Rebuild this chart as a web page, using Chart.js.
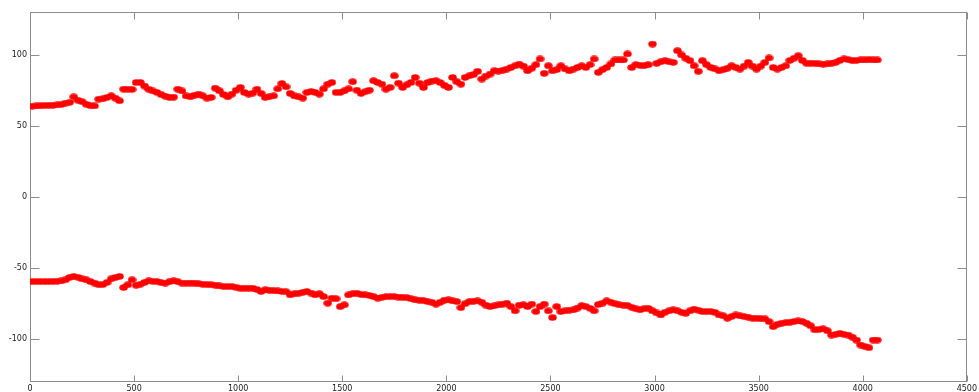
<!DOCTYPE html>
<html>
<head>
<meta charset="utf-8">
<script src="https://cdn.jsdelivr.net/npm/chart.js@4"></script>
<style>
	html, body { margin: 0; padding: 0; background: #fff; }
	canvas { display: block; }
</style>
</head>
<body>
<canvas id="chart" width="979" height="392"></canvas>
<script>
// sample positions shared by both traces
const xs = [
	10, 30, 50, 70, 90, 110, 130, 150, 170, 190,
	210, 230, 250, 270, 290, 310, 330, 350, 370, 390,
	410, 430, 450, 470, 490, 510, 530, 550, 570, 590,
	610, 630, 650, 670, 690, 710, 730, 750, 770, 790,
	810, 830, 850, 870, 890, 910, 930, 950, 970, 990,
	1010, 1030, 1050, 1070, 1090, 1110, 1130, 1150, 1170, 1190,
	1210, 1230, 1250, 1270, 1290, 1310, 1330, 1350, 1370, 1390,
	1410, 1430, 1450, 1470, 1490, 1510, 1530, 1550, 1570, 1590,
	1610, 1630, 1650, 1670, 1690, 1710, 1730, 1750, 1770, 1790,
	1810, 1830, 1850, 1870, 1890, 1910, 1930, 1950, 1970, 1990,
	2010, 2030, 2050, 2070, 2090, 2110, 2130, 2150, 2170, 2190,
	2210, 2230, 2250, 2270, 2290, 2310, 2330, 2350, 2370, 2390,
	2410, 2430, 2450, 2470, 2490, 2510, 2530, 2550, 2570, 2590,
	2610, 2630, 2650, 2670, 2690, 2710, 2730, 2750, 2770, 2790,
	2810, 2830, 2850, 2870, 2890, 2910, 2930, 2950, 2970, 2990,
	3010, 3030, 3050, 3070, 3090, 3110, 3130, 3150, 3170, 3190,
	3210, 3230, 3250, 3270, 3290, 3310, 3330, 3350, 3370, 3390,
	3410, 3430, 3450, 3470, 3490, 3510, 3530, 3550, 3570, 3590,
	3610, 3630, 3650, 3670, 3690, 3710, 3730, 3750, 3770, 3790,
	3810, 3830, 3850, 3870, 3890, 3910, 3930, 3950, 3970, 3990,
	4010, 4030, 4050, 4070
]

const upper = [
	63.8, 64, 64.1, 64.3, 64.4, 64.5, 64.7, 65, 66, 66.5,
	70.4, 68, 67, 65.2, 64.2, 64, 68.8, 69, 70, 71.1,
	69.5, 67.6, 75.8, 75.8, 75.6, 80.5, 80.5, 78, 75.8, 74.5,
	73.5, 72, 70.8, 70, 70.2, 75.8, 74.5, 71, 70.4, 71.5,
	72.3, 71.1, 69.5, 70, 76.5, 74.6, 72, 70.4, 72.3, 75,
	77, 73.5, 72.3, 73, 75.8, 72.8, 70, 70.5, 71.1, 76,
	79.8, 77.4, 72.8, 71, 70.4, 69.5, 73.5, 74.2, 73.5, 72.3,
	76, 79.3, 80.5, 73.5, 73.5, 74.6, 76, 81, 75.1, 72.8,
	74, 75.1, 81.7, 80.5, 79.3, 75.8, 77, 85.2, 80, 77,
	78.8, 80.5, 84, 80, 77, 80.5, 81.5, 81.7, 80.5, 78.5,
	77, 84, 81, 79.3, 84, 85.2, 86, 88.3, 82.9, 85,
	86.4, 88.7, 88.5, 89, 89.9, 91, 92.2, 93.4, 92, 88.7,
	90.5, 93, 97, 86.9, 92.2, 88.7, 89.5, 92.2, 90, 88.7,
	89.9, 91, 92.2, 91, 93, 97, 87.6, 89.5, 91, 93.5,
	96.3, 96.3, 96.3, 100.5, 91, 93, 92.5, 92.2, 93, 107.5,
	93.9, 95, 95.8, 95, 94.6, 102.8, 99.8, 97.5, 95.8, 92.2,
	88.3, 95.8, 93, 91, 90, 88.7, 89.5, 90.5, 92.2, 91,
	89.9, 92, 94.6, 92, 89.9, 92, 94.6, 97.7, 91, 89.9,
	91, 92.2, 96, 97.5, 99.3, 96, 94, 94, 93.9, 93.5,
	93.4, 93.5, 94, 94.6, 96, 97, 96.5, 95.8, 96, 96.3,
	96.3, 96.5, 96.3, 96.3
]

const lower = [
	-59.4, -59.4, -59.4, -59.4, -59.4, -59.3, -59.2, -59, -58.2, -56.5,
	-55.8, -56.4, -57.5, -58.2, -59.4, -60.5, -61.7, -61.5, -60, -57.5,
	-56.6, -55.8, -63.6, -61.7, -58.2, -62, -61.3, -60, -58.9, -59.2,
	-59.4, -60.2, -60.5, -59.5, -58.9, -59.5, -60.5, -60.5, -60.5, -60.5,
	-61, -61.3, -61.5, -61.7, -62, -62.5, -62.9, -62.9, -62.9, -63.5,
	-64.1, -64.1, -64.1, -64.1, -65, -66.4, -65.2, -65.5, -65.8, -66,
	-66.4, -66.6, -68.8, -68, -67.6, -67, -66.4, -67.5, -68.8, -68,
	-70, -74.6, -71.1, -71.5, -77, -75.8, -68.8, -68, -67.6, -68.5,
	-68.8, -69.2, -70, -71.1, -70.5, -70, -70, -70, -70.3, -70.5,
	-70.7, -71.5, -72.3, -72.5, -72.8, -73.5, -74, -75.3, -74, -72.5,
	-72.3, -73, -73.5, -77.7, -75, -73.5, -73.2, -73, -74, -76,
	-77, -76.5, -75.8, -75.3, -74.6, -77, -80, -76, -75.8, -77,
	-75.3, -80.5, -77, -75.3, -80, -84.7, -77, -80.5, -80, -79.5,
	-79.3, -78, -76.3, -77, -78.2, -80, -75.5, -74.6, -73, -74,
	-75, -75.8, -76, -76.3, -77.5, -78.5, -79.3, -78.5, -78.2, -80,
	-81.5, -82.9, -81, -80, -79.3, -80, -81, -81.7, -80, -78.8,
	-79.5, -80.5, -80.5, -80.5, -81, -82.9, -83.5, -85.2, -84, -82.9,
	-83.5, -84, -84.5, -85.2, -85.2, -85.5, -85.6, -87.6, -91.1, -89.5,
	-88.7, -88.3, -88, -87.5, -87.1, -87.5, -88.7, -90.5, -93.4, -93,
	-92.7, -94, -97, -96.5, -95.8, -96.5, -97, -98.5, -100.5, -104,
	-105, -105.9, -100.5, -100.5
]

const xTicks = [0, 500, 1000, 1500, 2000, 2500, 3000, 3500, 4000, 4500]
const yTicks = [-100, -50, 0, 50, 100]

const axisColor = "#8c8c8c"
const labelFont = { family: "DejaVu Sans", size: 8 }

// filled red marker, a little wider than tall
const dot = document.createElement("canvas")
dot.width = 9
dot.height = 7
{
	const c = dot.getContext("2d")
	c.fillStyle = "#ff0000"
	c.beginPath()
	c.ellipse(4.5, 3.5, 4.2, 3.3, 0, 0, Math.PI * 2)
	c.fill()
}

// closed box round the plot, tick marks pointing inwards on every side
const boxAxes = {
	id: "boxAxes",
	beforeDatasetsDraw(chart) {
		const { ctx, chartArea: a, scales } = chart
		const l = Math.round(a.left) + 0.5
		const r = Math.round(a.right) - 0.5
		const t = Math.round(a.top) + 0.5
		const b = Math.round(a.bottom) - 0.5
		ctx.save()
		ctx.strokeStyle = axisColor
		ctx.lineWidth = 1
		ctx.strokeRect(l, t, r - l, b - t)
		ctx.beginPath()
		xTicks.forEach((v) => {
			const px = Math.round(scales.x.getPixelForValue(v)) + 0.5
			ctx.moveTo(px, b)
			ctx.lineTo(px, b - 6)
			ctx.moveTo(px, t)
			ctx.lineTo(px, t + 7)
		})
		yTicks.forEach((v) => {
			const py = Math.round(scales.y.getPixelForValue(v)) + 0.5
			ctx.moveTo(l, py)
			ctx.lineTo(l + 9, py)
			ctx.moveTo(r, py)
			ctx.lineTo(r - 9, py)
		})
		ctx.stroke()
		ctx.restore()
	},
}

const toPoints = (ys) => xs.map((x, i) => ({ x: x, y: ys[i] }))

// plain integers, no thousands separator
const plain = (v) => String(v)

const config = {
	type: "scatter",
	data: {
		datasets: [
			{ data: toPoints(upper) },
			{ data: toPoints(lower) },
		],
	},
	options: {
		responsive: false,
		animation: false,
		devicePixelRatio: 1,
		layout: { padding: { top: 12, right: 10, left: 0, bottom: 0 } },
		plugins: {
			legend: { display: false },
			tooltip: { enabled: false },
		},
		elements: {
			point: {
				pointStyle: dot,
				radius: 4,
				hoverRadius: 4,
			},
		},
		scales: {
			x: {
				type: "linear",
				min: 0,
				max: 4500,
				grid: { display: false, drawTicks: false },
				border: { display: false },
				afterBuildTicks: (scale) => {
					scale.ticks = xTicks.map((v) => ({ value: v }))
				},
				afterFit: (scale) => {
					scale.height = 10
				},
				ticks: {
					padding: 2,
					color: "#1a1a1a",
					font: labelFont,
					maxRotation: 0,
					autoSkip: false,
					callback: plain,
				},
			},
			y: {
				type: "linear",
				min: -130,
				max: 130,
				grid: { display: false, drawTicks: false },
				border: { display: false },
				afterBuildTicks: (scale) => {
					scale.ticks = yTicks.map((v) => ({ value: v }))
				},
				afterFit: (scale) => {
					scale.width = 30
				},
				ticks: {
					padding: 3,
					color: "#1a1a1a",
					font: labelFont,
					autoSkip: false,
					callback: plain,
				},
			},
		},
	},
	plugins: [boxAxes],
}

new Chart(document.getElementById("chart"), config)
</script>
</body>
</html>
